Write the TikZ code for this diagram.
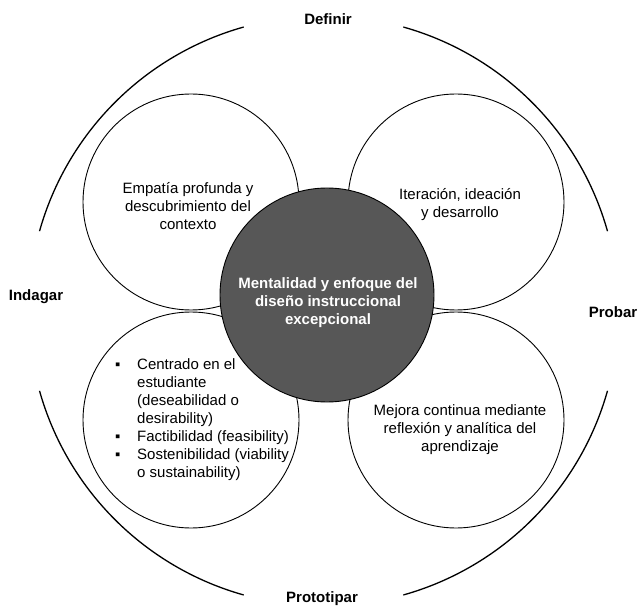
\documentclass[tikz,border=0pt]{standalone}
\usepackage{fontspec}
\setmainfont{Liberation Sans}
\definecolor{darkfill}{HTML}{575757}
\tikzset{
  petal/.style={draw=black, line width=0.9pt, fill=white, circle, minimum size=216pt, inner sep=0pt},
  core/.style={draw=black, line width=0.9pt, fill=darkfill, circle, minimum size=214pt, inner sep=0pt},
  petaltext/.style={align=center, font=\fontsize{15}{18}\selectfont, inner sep=0pt},
  coretext/.style={align=center, text=white, font=\fontsize{15}{18}\selectfont\bfseries, inner sep=0pt},
  phase/.style={font=\fontsize{15}{18}\selectfont\bfseries, inner sep=0pt},
  outerarc/.style={draw=black, line width=1.3pt},
}
\newcommand{\bul}{\llap{\makebox[22pt][l]{▪}}}
\begin{document}
\begin{tikzpicture}[x=1pt,y=1pt]
\useasboundingbox (0,0) rectangle (637,606);
\coordinate (O) at (323.5,295);
% outer arcs
\draw[outerarc] (O) ++(105.7:295pt) arc[start angle=105.7, end angle=164.3, radius=295pt];
\draw[outerarc] (O) ++(15.7:295pt) arc[start angle=15.7, end angle=74.3, radius=295pt];
\draw[outerarc] (O) ++(195.7:295pt) arc[start angle=195.7, end angle=254.3, radius=295pt];
\draw[outerarc] (O) ++(285.7:295pt) arc[start angle=285.7, end angle=344.3, radius=295pt];
% petals
\node[petal] (tl) at (191,404) {};
\node[petal] (tr) at (456,404) {};
\node[petal] (bl) at (191,186) {};
\node[petal] (br) at (456,186) {};
\node[core] (c) at (327,311) {};
% texts
\node[petaltext] (tltext) at (188,400) {Empatía profunda y\\descubrimiento del\\contexto};
\node[petaltext] (trtext) at (460,401) {Iteración, ideación\\y desarrollo};
\node[petaltext] (brtext) at (460,176) {Mejora continua mediante\\reflexión y analítica del\\aprendizaje};
\node[petaltext, align=left, anchor=west] (bltext) at (137,186) {\bul Centrado en el\\estudiante\\(deseabilidad o\\desirability)\\\bul Factibilidad (feasibility)\\\bul Sostenibilidad (viability\\o sustainability)};
\node[coretext] (ctext) at (328,303) {Mentalidad y enfoque del\\diseño instruccional\\excepcional};
% phase labels
\node[phase] (definir) at (328,587) {Definir};
\node[phase] (indagar) at (36,309) {Indagar};
\node[phase] (probar) at (613,294) {Probar};
\node[phase] (prototipar) at (322,7) {Prototipar};
\end{tikzpicture}
\end{document}
